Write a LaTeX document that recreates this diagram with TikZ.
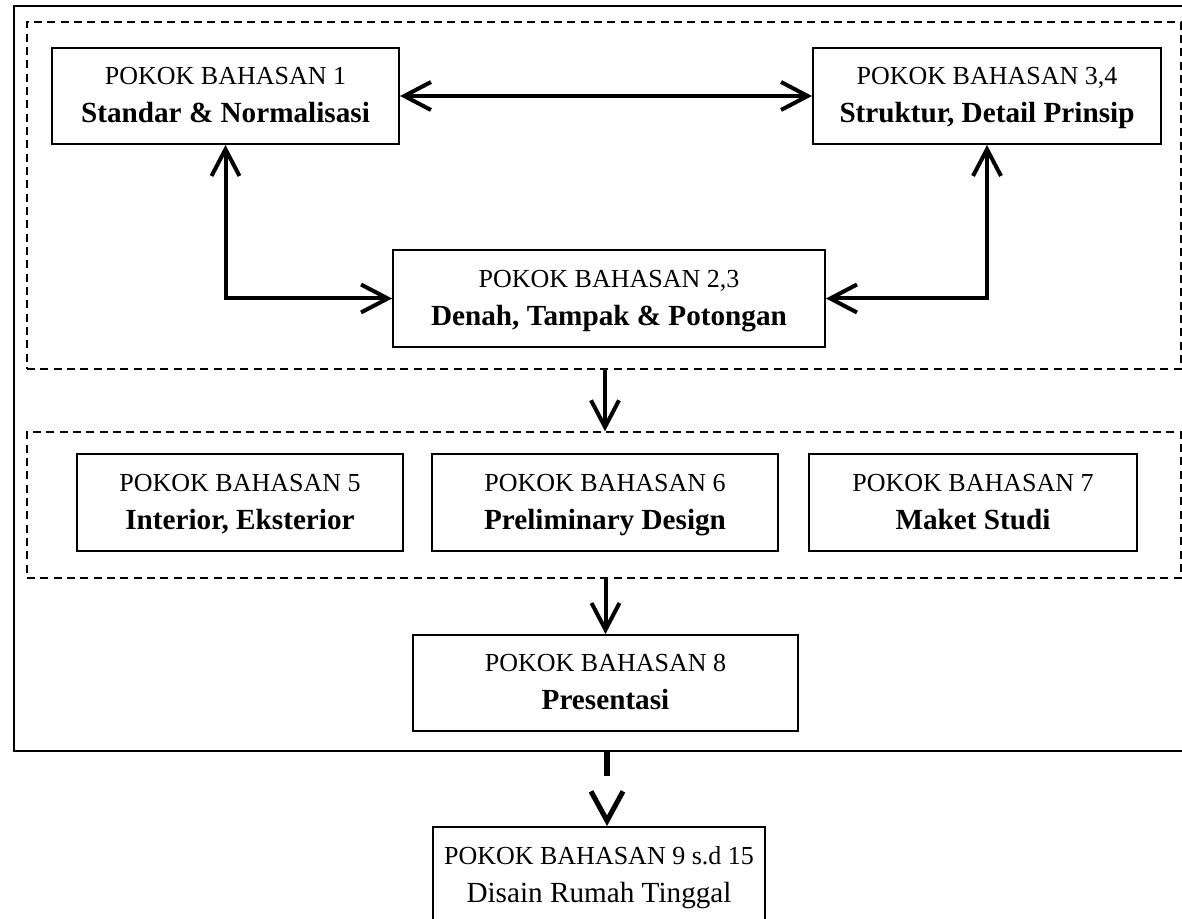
\documentclass[tikz,border=0pt]{standalone}
\usepackage{fontspec}
\setmainfont{Liberation Serif}
\usetikzlibrary{arrows.meta}
\newcommand\pbtext[2]{\strut #1\\\strut{\fontsize{21.9}{28.5}\selectfont\bfseries #2}}
\newcommand\pbplain[2]{\strut #1\\\strut{\fontsize{21.9}{28.5}\selectfont #2}}
\begin{document}
\begin{tikzpicture}[x=0.75pt,y=-0.75pt,
  box/.style={draw, line width=1.5pt, inner sep=0pt, align=center,
    font=\fontsize{19.5}{28.5}\selectfont},
  frame/.style={draw, line width=1.5pt, inner sep=0pt},
  grp/.style={draw, dash pattern=on 6pt off 4pt, line width=1.1pt, inner sep=0pt},
  barb/.tip={Straight Barb[length=20pt,width=21pt]},
  link/.style={line width=3pt, barb-barb},
  flow/.style={line width=3pt, -barb},
  bigflow/.style={line width=3.8pt, dash pattern=on 19pt off 60pt,
    -{Straight Barb[length=22pt,width=24pt]}},
  sz/.style 2 args={minimum width={#1*0.75pt}, minimum height={#2*0.75pt}}
]
\useasboundingbox (0,0) rectangle (1182,919);
\clip (0,0) rectangle (1182,919);
\fill[white] (0,0) rectangle (1182,919);

% containers
\node[frame, sz={1178}{745}] (outer) at (603,378.5) {};
\node[grp, sz={1154}{347}] (g1) at (604,195.5) {};
\node[grp, sz={1154}{146}] (g2) at (604,505) {};

% boxes
\node[box, sz={347}{96}] (b1) at (225.5,96) {\pbtext{POKOK BAHASAN 1}{Standar \& Normalisasi}};
\node[box, sz={348}{96}] (b34) at (987,96) {\pbtext{POKOK BAHASAN 3,4}{Struktur, Detail Prinsip}};
\node[box, sz={432}{97}] (b23) at (609,298.5) {\pbtext{POKOK BAHASAN 2,3}{Denah, Tampak \& Potongan}};
\node[box, sz={326}{97}] (b5) at (240,502.5) {\pbtext{POKOK BAHASAN 5}{Interior, Eksterior}};
\node[box, sz={346}{97}] (b6) at (605,502.5) {\pbtext{POKOK BAHASAN 6}{Preliminary Design}};
\node[box, sz={328}{97}] (b7) at (973,502.5) {\pbtext{POKOK BAHASAN 7}{Maket Studi}};
\node[box, sz={385}{96}] (b8) at (605.5,683) {\pbtext{POKOK BAHASAN 8}{Presentasi}};
\node[box, sz={332}{97}] (b9) at (599,875.5) {\pbplain{POKOK BAHASAN 9 s.d 15}{Disain Rumah Tinggal}};

% connectors
\draw[link] (b1.east) -- (b34.west);
\draw[link] (b1.south) |- (b23.west);
\draw[link] (b34.south) |- (b23.east);
\draw[flow] (b6 |- g1.south) -- (b6 |- g2.north);
\draw[flow] (b8 |- g2.south) -- (b8.north);
\coordinate (d) at (607,751);
\draw[bigflow] (d) -- (d |- b9.north);
\end{tikzpicture}
\end{document}
